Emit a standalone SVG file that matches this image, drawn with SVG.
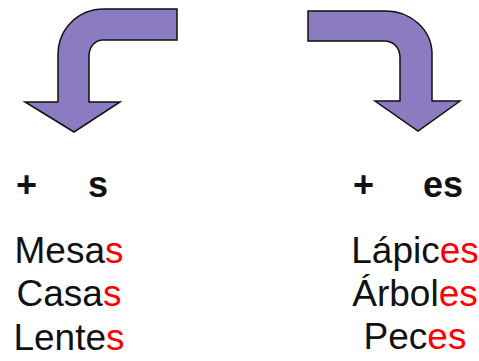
<svg xmlns="http://www.w3.org/2000/svg" width="479" height="361" viewBox="0 0 479 361">
<style>
.arrow{fill:#8B7BC0;stroke:#111;stroke-width:1.5;stroke-linejoin:miter}
.w{font-family:"Liberation Sans",Arial,sans-serif;font-size:37px;fill:#111;text-anchor:middle}
.b{font-family:"Liberation Sans",Arial,sans-serif;font-size:36px;font-weight:bold;fill:#111}
.r{fill:#FF0000}
</style>
<rect width="479" height="361" fill="#fff"/>
<g id="arrow-left">
<path class="arrow" d="M177,9 L104,9 C78,9 58,29 58,55 L58,102 L25,102 L74,132 L120,102 L89,102 L89,56 C89,47 95,40 103,40 L177,40 Z"/>
</g>
<g id="arrow-right">
<path class="arrow" d="M308,11 L386,11 C411,11 432,30 432,54 L432,101 L460,101 L418,131 L375,101 L400,101 L400,58 C400,48 394,41 384,41 L308,41 Z"/>
</g>
<g id="left-header">
<text class="b" x="16" y="197">+</text>
<text class="b" x="88" y="197">s</text>
</g>
<g id="right-header">
<text class="b" x="353" y="197">+</text>
<text class="b" x="423" y="197">es</text>
</g>
<g id="left-words">
<text class="w" x="69" y="263">Mesa<tspan class="r">s</tspan></text>
<text class="w" x="69" y="306">Casa<tspan class="r">s</tspan></text>
<text class="w" x="69" y="350">Lente<tspan class="r">s</tspan></text>
</g>
<g id="right-words">
<text class="w" x="415" y="263">Lápic<tspan class="r">es</tspan></text>
<text class="w" x="415" y="306">Árbol<tspan class="r">es</tspan></text>
<text class="w" x="415" y="349">Pec<tspan class="r">es</tspan></text>
</g>
<g id="connectors"></g>
</svg>
